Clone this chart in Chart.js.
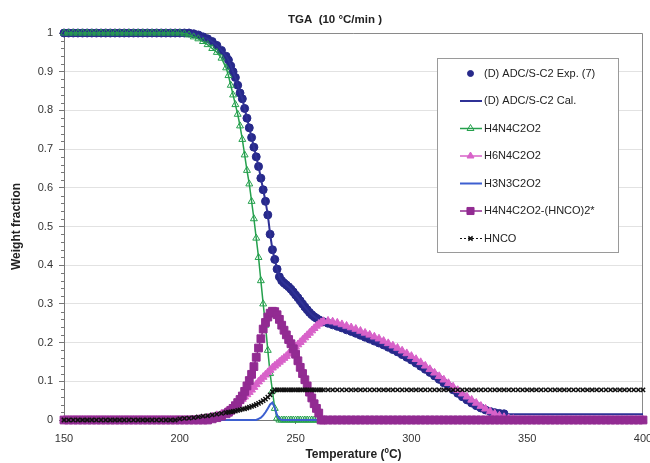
<!DOCTYPE html>
<html>
<head>
<meta charset="utf-8">
<title>TGA</title>
<script src="https://cdn.jsdelivr.net/npm/chart.js@4.4.1/dist/chart.umd.min.js"></script>
<style>
  html, body { margin: 0; padding: 0; background: #fff; }
  #wrap { width: 650px; height: 463px; }
</style>
</head>
<body>
<div id="wrap"><canvas id="tga" width="650" height="463"></canvas></div>
<script>
// temperature grid (°C): coarse outside the decomposition window, 1 °C inside it
const temps = [
  150, 152, 154, 156, 158, 160, 162, 164, 166, 168,
  170, 172, 174, 176, 178, 180, 182, 184, 186, 188,
  190, 192, 194, 196, 198, 200, 202, 204, 206, 208,
  210, 212, 214, 216, 218, 220,
  221, 222, 223, 224, 225, 226, 227, 228, 229, 230,
  231, 232, 233, 234, 235, 236, 237, 238, 239, 240,
  241, 242, 243, 244, 245, 246, 247, 248, 249, 250,
  251, 252, 253, 254, 255, 256, 257, 258, 259, 260,
  261,
  262, 264, 266, 268, 270, 272, 274, 276, 278, 280,
  282, 284, 286, 288, 290, 292, 294, 296, 298, 300,
  302, 304, 306, 308, 310, 312, 314, 316, 318, 320,
  322, 324, 326, 328, 330, 332, 334, 336, 338, 340,
  342, 344, 346, 348, 350, 352, 354, 356, 358, 360,
  362, 364, 366, 368, 370, 372, 374, 376, 378, 380,
  382, 384, 386, 388, 390, 392, 394, 396, 398, 400
];

const seriesNames = [
  '(D) ADC/S-C2 Exp. (7)',
  '(D) ADC/S-C2 Cal.',
  'H4N4C2O2',
  'H6N4C2O2',
  'H3N3C2O2',
  'H4N4C2O2-(HNCO)2*',
  'HNCO'
];

const expWeight = [
  1, 1, 1, 1, 1, 1, 1, 1, 1, 1,
  1, 1, 1, 1, 1, 1, 1, 1, 1, 1,
  1, 1, 1, 1, 1, 1, 1, 1, 0.998, 0.995,
  0.99, 0.985, 0.978, 0.968, 0.955, 0.94,
  0.93, 0.915, 0.9, 0.885, 0.865, 0.845, 0.83, 0.805, 0.78, 0.755,
  0.73, 0.705, 0.68, 0.655, 0.625, 0.595, 0.565, 0.53, 0.48, 0.44,
  0.415, 0.39, 0.37, 0.36, 0.354, 0.349, 0.344, 0.338, 0.331, 0.323,
  0.316, 0.308, 0.3, 0.292, 0.285, 0.278, 0.272, 0.267, 0.263, 0.259,
  0.256,
  0.254, 0.25, 0.246, 0.242, 0.238, 0.233, 0.229, 0.224, 0.219, 0.214,
  0.209, 0.204, 0.199, 0.194, 0.188, 0.182, 0.176, 0.169, 0.162, 0.155,
  0.147, 0.139, 0.131, 0.123, 0.114, 0.105, 0.096, 0.087, 0.078, 0.069,
  0.06, 0.052, 0.044, 0.037, 0.031, 0.026, 0.022, 0.019, 0.017, 0.016,
  null, null, null, null, null, null, null, null, null, null,
  null, null, null, null, null, null, null, null, null, null,
  null, null, null, null, null, null, null, null, null, null
];

const calWeight = [
  1, 1, 1, 1, 1, 1, 1, 1, 1, 1,
  1, 1, 1, 1, 1, 1, 1, 1, 1, 1,
  1, 1, 1, 1, 1, 1, 1, 1, 0.998, 0.995,
  0.99, 0.985, 0.978, 0.968, 0.955, 0.94,
  0.93, 0.915, 0.9, 0.885, 0.865, 0.845, 0.83, 0.805, 0.78, 0.755,
  0.73, 0.705, 0.68, 0.655, 0.625, 0.595, 0.565, 0.53, 0.48, 0.44,
  0.415, 0.39, 0.37, 0.36, 0.354, 0.349, 0.344, 0.338, 0.331, 0.323,
  0.316, 0.308, 0.3, 0.292, 0.285, 0.278, 0.272, 0.267, 0.263, 0.259,
  0.256,
  0.254, 0.25, 0.246, 0.242, 0.238, 0.233, 0.229, 0.224, 0.219, 0.214,
  0.209, 0.204, 0.199, 0.194, 0.188, 0.182, 0.176, 0.169, 0.162, 0.155,
  0.147, 0.139, 0.131, 0.123, 0.114, 0.105, 0.096, 0.087, 0.078, 0.069,
  0.06, 0.052, 0.044, 0.037, 0.031, 0.026, 0.022, 0.019, 0.017, 0.016,
  0.015, 0.015, 0.015, 0.015, 0.015, 0.015, 0.015, 0.015, 0.015, 0.015,
  0.015, 0.015, 0.015, 0.015, 0.015, 0.015, 0.015, 0.015, 0.015, 0.015,
  0.015, 0.015, 0.015, 0.015, 0.015, 0.015, 0.015, 0.015, 0.015, 0.015
];

const h4n4Weight = [
  1, 1, 1, 1, 1, 1, 1, 1, 1, 1,
  1, 1, 1, 1, 1, 1, 1, 1, 1, 1,
  1, 1, 1, 1, 1, 1, 0.998, 0.995, 0.99, 0.985,
  0.978, 0.97, 0.96, 0.95, 0.935, 0.91,
  0.89, 0.865, 0.84, 0.815, 0.79, 0.76, 0.725, 0.685, 0.645, 0.61,
  0.565, 0.52, 0.47, 0.42, 0.36, 0.3, 0.245, 0.18, 0.12, 0.075,
  0.03, 0.005, 0, 0, 0, 0, 0, 0, 0, 0,
  0, 0, 0, 0, 0, 0, 0, 0, 0, 0,
  0,
  0, 0, 0, 0, 0, 0, 0, 0, 0, 0,
  0, 0, 0, 0, 0, 0, 0, 0, 0, 0,
  0, 0, 0, 0, 0, 0, 0, 0, 0, 0,
  0, 0, 0, 0, 0, 0, 0, 0, 0, 0,
  0, 0, 0, 0, 0, 0, 0, 0, 0, 0,
  0, 0, 0, 0, 0, 0, 0, 0, 0, 0,
  0, 0, 0, 0, 0, 0, 0, 0, 0, 0
];

const h6n4Weight = [
  0, 0, 0, 0, 0, 0, 0, 0, 0, 0,
  0, 0, 0, 0, 0, 0, 0, 0, 0, 0,
  0, 0, 0, 0, 0, 0, 0, 0, 0.001, 0.002,
  0.004, 0.006, 0.009, 0.012, 0.016, 0.021,
  0.024, 0.028, 0.032, 0.037, 0.042, 0.048, 0.054, 0.06, 0.066, 0.072,
  0.078, 0.085, 0.092, 0.099, 0.105, 0.111, 0.117, 0.123, 0.129, 0.135,
  0.14, 0.145, 0.15, 0.155, 0.16, 0.165, 0.171, 0.177, 0.183, 0.189,
  0.195, 0.201, 0.207, 0.213, 0.219, 0.225, 0.231, 0.237, 0.243, 0.248,
  0.252,
  0.255, 0.256, 0.254, 0.251, 0.247, 0.243, 0.239, 0.235, 0.23, 0.225,
  0.22, 0.215, 0.21, 0.204, 0.198, 0.192, 0.186, 0.179, 0.172, 0.165,
  0.157, 0.149, 0.14, 0.131, 0.122, 0.113, 0.104, 0.095, 0.086, 0.077,
  0.068, 0.06, 0.052, 0.044, 0.036, 0.029, 0.022, 0.016, 0.011, 0.007,
  0.004, 0.002, 0, 0, 0, 0, 0, 0, 0, 0,
  0, 0, 0, 0, 0, 0, 0, 0, 0, 0,
  0, 0, 0, 0, 0, 0, 0, 0, 0, 0
];

const h3n3Weight = [
  0, 0, 0, 0, 0, 0, 0, 0, 0, 0,
  0, 0, 0, 0, 0, 0, 0, 0, 0, 0,
  0, 0, 0, 0, 0, 0, 0, 0, 0, 0,
  0, 0, 0, 0, 0, 0,
  0, 0, 0, 0, 0, 0, 0, 0, 0, 0,
  0, 0, 0, 0.003, 0.006, 0.012, 0.02, 0.03, 0.04, 0.045,
  0.032, 0.012, 0.003, 0, 0, 0, 0, 0, 0, 0,
  0, 0, 0, 0, 0, 0, 0, 0, 0, 0,
  0,
  0, 0, 0, 0, 0, 0, 0, 0, 0, 0,
  0, 0, 0, 0, 0, 0, 0, 0, 0, 0,
  0, 0, 0, 0, 0, 0, 0, 0, 0, 0,
  0, 0, 0, 0, 0, 0, 0, 0, 0, 0,
  0, 0, 0, 0, 0, 0, 0, 0, 0, 0,
  0, 0, 0, 0, 0, 0, 0, 0, 0, 0,
  0, 0, 0, 0, 0, 0, 0, 0, 0, 0
];

const dimerWeight = [
  0, 0, 0, 0, 0, 0, 0, 0, 0, 0,
  0, 0, 0, 0, 0, 0, 0, 0, 0, 0,
  0, 0, 0, 0, 0, 0, 0, 0, 0, 0,
  0, 0, 0.003, 0.006, 0.01, 0.016,
  0.02, 0.025, 0.03, 0.037, 0.045, 0.053, 0.062, 0.074, 0.088, 0.102,
  0.118, 0.138, 0.162, 0.186, 0.21, 0.235, 0.252, 0.266, 0.276, 0.281,
  0.28, 0.272, 0.26, 0.245, 0.232, 0.22, 0.208, 0.197, 0.184, 0.17,
  0.153, 0.136, 0.12, 0.104, 0.088, 0.072, 0.057, 0.042, 0.03, 0.018,
  0,
  0, 0, 0, 0, 0, 0, 0, 0, 0, 0,
  0, 0, 0, 0, 0, 0, 0, 0, 0, 0,
  0, 0, 0, 0, 0, 0, 0, 0, 0, 0,
  0, 0, 0, 0, 0, 0, 0, 0, 0, 0,
  0, 0, 0, 0, 0, 0, 0, 0, 0, 0,
  0, 0, 0, 0, 0, 0, 0, 0, 0, 0,
  0, 0, 0, 0, 0, 0, 0, 0, 0, 0
];

const hncoWeight = [
  0, 0, 0, 0, 0, 0, 0, 0, 0, 0,
  0, 0, 0, 0, 0, 0, 0, 0, 0, 0,
  0, 0, 0, 0, 0, 0.003, 0.004, 0.005, 0.006, 0.008,
  0.01, 0.011, 0.013, 0.015, 0.017, 0.019,
  0.02, 0.021, 0.022, 0.023, 0.025, 0.026, 0.028, 0.029, 0.031, 0.033,
  0.035, 0.037, 0.04, 0.043, 0.046, 0.05, 0.054, 0.059, 0.065, 0.073,
  0.078, 0.078, 0.078, 0.078, 0.078, 0.078, 0.078, 0.078, 0.078, 0.078,
  0.078, 0.078, 0.078, 0.078, 0.078, 0.078, 0.078, 0.078, 0.078, 0.078,
  0.078,
  0.078, 0.078, 0.078, 0.078, 0.078, 0.078, 0.078, 0.078, 0.078, 0.078,
  0.078, 0.078, 0.078, 0.078, 0.078, 0.078, 0.078, 0.078, 0.078, 0.078,
  0.078, 0.078, 0.078, 0.078, 0.078, 0.078, 0.078, 0.078, 0.078, 0.078,
  0.078, 0.078, 0.078, 0.078, 0.078, 0.078, 0.078, 0.078, 0.078, 0.078,
  0.078, 0.078, 0.078, 0.078, 0.078, 0.078, 0.078, 0.078, 0.078, 0.078,
  0.078, 0.078, 0.078, 0.078, 0.078, 0.078, 0.078, 0.078, 0.078, 0.078,
  0.078, 0.078, 0.078, 0.078, 0.078, 0.078, 0.078, 0.078, 0.078, 0.078
];

const FONT = "'Liberation Sans', Arial, sans-serif";

function toPoints(values) {
  return temps.map((t, i) => ({ x: t, y: values[i] }));
}

// marker shapes, same geometry as Chart.js point styles
function drawMarker(ctx, style, x, y, r) {
  ctx.beginPath();
  if (style === 'circle') {
    ctx.arc(x, y, r, 0, Math.PI * 2);
  } else if (style === 'triangle') {
    ctx.moveTo(x, y - r);
    ctx.lineTo(x + r * 0.866, y + r * 0.5);
    ctx.lineTo(x - r * 0.866, y + r * 0.5);
    ctx.closePath();
  } else if (style === 'rect') {
    const s = r * Math.SQRT1_2;
    ctx.rect(x - s, y - s, 2 * s, 2 * s);
  } else if (style === 'crossRot') {
    const d = r * Math.SQRT1_2;
    ctx.moveTo(x - d, y - d); ctx.lineTo(x + d, y + d);
    ctx.moveTo(x + d, y - d); ctx.lineTo(x - d, y + d);
  }
}

// frame, title, minor ticks and the boxed legend
const decorPlugin = {
  id: 'decor',
  beforeDatasetsDraw(chart) {
    const { ctx, chartArea: a } = chart;
    ctx.save();
    ctx.strokeStyle = '#8a8a8a';
    ctx.lineWidth = 1;
    ctx.beginPath();
    ctx.moveTo(a.left, a.top + 0.5);
    ctx.lineTo(a.right - 0.5, a.top + 0.5);
    ctx.lineTo(a.right - 0.5, a.bottom);
    ctx.stroke();
    ctx.restore();
  },
  afterDraw(chart) {
    const { ctx, chartArea: a, scales } = chart;
    ctx.save();

    // minor ticks on the weight axis
    ctx.strokeStyle = '#777';
    ctx.lineWidth = 1;
    ctx.beginPath();
    for (let i = 0; i <= 50; i++) {
      if (i % 5 === 0) continue;
      const py = Math.round(scales.y.getPixelForValue(i / 50)) + 0.5;
      ctx.moveTo(a.left - 3, py);
      ctx.lineTo(a.left, py);
    }
    ctx.stroke();

    ctx.fillStyle = '#222';
    ctx.font = 'bold 11.5px ' + FONT;
    ctx.textAlign = 'center';
    ctx.textBaseline = 'middle';
    ctx.fillText('TGA  (10 °C/min )', 335, 20);

    // legend box
    const box = { x: 437.5, y: 58.5, w: 181, h: 194 };
    ctx.fillStyle = '#fff';
    ctx.fillRect(box.x, box.y, box.w, box.h);
    ctx.strokeStyle = '#9a9a9a';
    ctx.strokeRect(box.x, box.y, box.w, box.h);

    const symX = 470.5;
    ctx.font = '11px ' + FONT;
    ctx.textAlign = 'left';
    chart.data.datasets.forEach((ds, i) => {
      const y = 73.5 + i * 27.5;
      if (ds.showLine !== false) {
        ctx.save();
        ctx.strokeStyle = ds.borderColor;
        ctx.lineWidth = ds.borderWidth;
        ctx.setLineDash(ds.borderDash || []);
        ctx.beginPath();
        ctx.moveTo(460, y);
        ctx.lineTo(482, y);
        ctx.stroke();
        ctx.restore();
      }
      if (ds.pointRadius > 0) {
        drawMarker(ctx, ds.pointStyle, symX, y, ds.legendRadius);
        ctx.fillStyle = ds.pointBackgroundColor;
        ctx.fill();
        ctx.strokeStyle = ds.pointBorderColor;
        ctx.lineWidth = ds.pointBorderWidth;
        ctx.stroke();
      }
      ctx.fillStyle = '#222';
      ctx.fillText(ds.label, 484, y);
    });
    ctx.restore();
  }
};

new Chart(document.getElementById('tga'), {
  type: 'line',
  data: {
    datasets: [
      {
        label: seriesNames[0], data: toPoints(expWeight), showLine: false,
        pointStyle: 'circle', pointRadius: 4, legendRadius: 3,
        pointBackgroundColor: '#27298a', pointBorderColor: '#27298a', pointBorderWidth: 1,
        borderColor: '#27298a', order: 7
      },
      {
        label: seriesNames[1], data: toPoints(calWeight),
        borderColor: '#2f3196', borderWidth: 2, pointRadius: 0, order: 6
      },
      {
        label: seriesNames[2], data: toPoints(h4n4Weight),
        borderColor: '#25a04d', borderWidth: 1.5,
        pointStyle: 'triangle', pointRadius: 4, legendRadius: 4,
        pointBackgroundColor: 'rgba(255,255,255,0)', pointBorderColor: '#25a04d', pointBorderWidth: 1,
        order: 5
      },
      {
        label: seriesNames[3], data: toPoints(h6n4Weight),
        borderColor: '#d862c9', borderWidth: 1.5,
        pointStyle: 'triangle', pointRadius: 4.5, legendRadius: 4,
        pointBackgroundColor: '#d862c9', pointBorderColor: '#d862c9', pointBorderWidth: 1,
        order: 4
      },
      {
        label: seriesNames[4], data: toPoints(h3n3Weight),
        borderColor: '#3d5fd0', borderWidth: 2, pointRadius: 0, order: 3
      },
      {
        label: seriesNames[5], data: toPoints(dimerWeight),
        borderColor: '#922b92', borderWidth: 1.5,
        pointStyle: 'rect', pointRadius: 5.5, legendRadius: 5,
        pointBackgroundColor: '#922b92', pointBorderColor: '#922b92', pointBorderWidth: 1,
        order: 2
      },
      {
        label: seriesNames[6], data: toPoints(hncoWeight),
        borderColor: '#111', borderWidth: 1, borderDash: [2, 2],
        pointStyle: 'crossRot', pointRadius: 3, legendRadius: 3,
        pointBackgroundColor: '#111', pointBorderColor: '#111', pointBorderWidth: 1.5,
        order: 1
      }
    ]
  },
  options: {
    responsive: false,
    animation: false,
    devicePixelRatio: 1,
    layout: { padding: { top: 33, right: 7, left: 0, bottom: 0 } },
    elements: { line: { tension: 0 } },
    datasets: { line: { clip: false } },
    plugins: {
      legend: { display: false },
      tooltip: { enabled: false },
      title: { display: false }
    },
    scales: {
      x: {
        type: 'linear', min: 150, max: 400,
        ticks: { stepSize: 50, color: '#333', font: { family: FONT, size: 11 }, padding: 8, maxRotation: 0 },
        grid: { drawOnChartArea: false, tickLength: 4, color: '#777' },
        border: { color: '#777' },
        title: {
          display: true, text: 'Temperature (ºC)', color: '#222',
          font: { family: FONT, size: 12, weight: 'bold' }, padding: { top: 0, bottom: 1 }
        },
        afterFit(scale) { scale.height = 43; scale.paddingLeft = 0; scale.paddingRight = 0; }
      },
      y: {
        min: 0, max: 1,
        ticks: {
          stepSize: 0.1, color: '#333', font: { family: FONT, size: 11 }, padding: 6,
          callback: (v) => String(Math.round(v * 10) / 10)
        },
        grid: { color: '#e2e2e2', tickColor: '#777', tickLength: 5 },
        border: { color: '#777' },
        title: {
          display: true, text: 'Weight fraction', color: '#222',
          font: { family: FONT, size: 12, weight: 'bold' }, padding: { top: 9, bottom: 0 }
        },
        afterFit(scale) { scale.width = 64; scale.paddingTop = 0; scale.paddingBottom = 0; }
      }
    }
  },
  plugins: [decorPlugin]
});
</script>
</body>
</html>
